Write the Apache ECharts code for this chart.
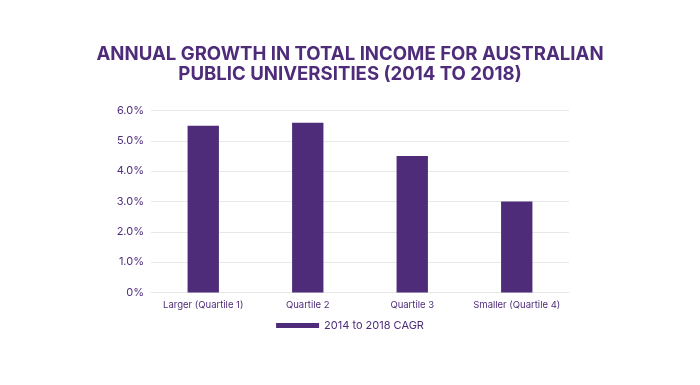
<!DOCTYPE html>
<html><head><meta charset="utf-8">
<script src="https://cdn.jsdelivr.net/npm/echarts@6/dist/echarts.min.js"></script>
<style>html,body{margin:0;padding:0;background:#fff}#c{width:700px;height:385px}</style>
</head><body><div id="c"></div>
<script>
const categories = ["Larger (Quartile 1)", "Quartile 2", "Quartile 3", "Smaller (Quartile 4)"];
const cagr = [5.5, 5.6, 4.5, 3.0];
const seriesName = "2014 to 2018 CAGR";
const titleText = "ANNUAL GROWTH IN TOTAL INCOME FOR AUSTRALIAN\nPUBLIC UNIVERSITIES (2014 TO 2018)";
const purple = "#4e2c7a";
const chart = echarts.init(document.getElementById('c'));
chart.setOption({
  animation: false,
  title: {
    text: titleText, left: 'center', top: 39,
    textStyle: {color: purple, fontFamily: 'Inter', fontWeight: 'bold', fontSize: 18.6, lineHeight: 20.5}
  },
  legend: {
    bottom: 49, left: 'center', itemWidth: 43, itemHeight: 5, icon: 'rect',
    textStyle: {color: purple, fontFamily: 'Inter', fontSize: 11},
    data: [seriesName]
  },
  grid: {left: 151, right: 131, top: 110.5, bottom: 92.5},
  xAxis: {
    type: 'category', data: categories,
    axisLine: {lineStyle: {color: '#e6e6e6'}}, axisTick: {show: false},
    axisLabel: {color: purple, fontFamily: 'Inter', fontSize: 9.5, margin: 8, interval: 0}
  },
  yAxis: {
    type: 'value', min: 0, max: 6, interval: 1,
    axisLabel: {color: purple, fontFamily: 'Inter', fontSize: 11, margin: 7,
      formatter: v => v === 0 ? '0%' : v.toFixed(1) + '%'},
    splitLine: {lineStyle: {color: '#e8e8e8'}}
  },
  series: [{name: seriesName, type: 'bar', data: cagr, barWidth: '30%', itemStyle: {color: purple}}]
});
</script></body></html>
